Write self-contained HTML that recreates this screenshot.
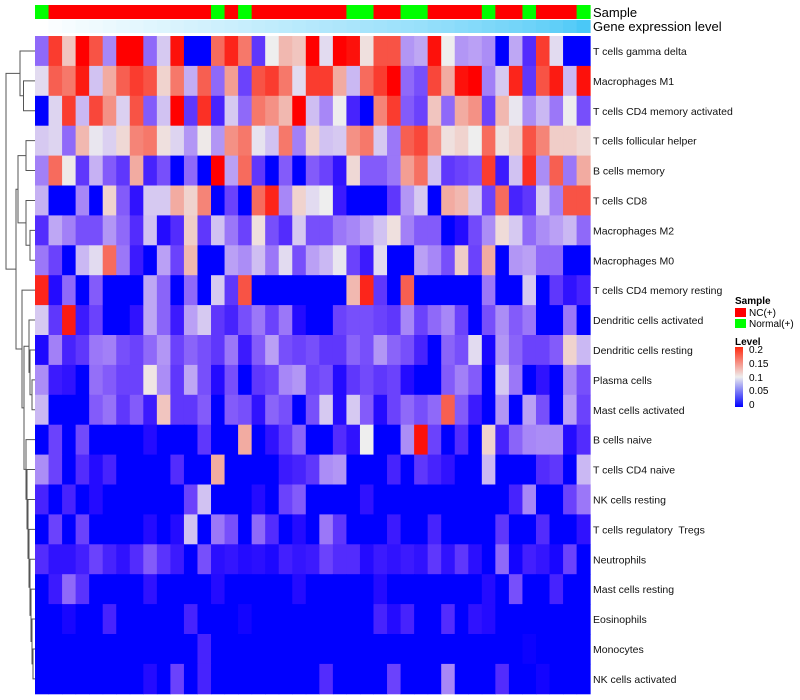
<!DOCTYPE html>
<html><head><meta charset="utf-8"><style>
body{margin:0;background:#fff;}
svg{display:block;font-family:"Liberation Sans",sans-serif;}
text{white-space:pre;}
</style></head><body>
<svg id="chart" width="800" height="700" xmlns="http://www.w3.org/2000/svg">
<defs><linearGradient id="lg" x1="0" y1="1" x2="0" y2="0"><stop offset="0" stop-color="#0000ff"/><stop offset="0.5" stop-color="#eeeeee"/><stop offset="1" stop-color="#ff2a10"/></linearGradient></defs>
<g id="cells"></g>
<g id="annot"></g>
<g id="dendro" stroke="#555" stroke-width="1" fill="none"></g>
<g id="rowlabels" font-size="10.5" fill="#111"></g>
<text x="593" y="17" font-size="13">Sample</text>
<text x="593" y="31" font-size="13">Gene expression level</text>
<g font-size="10">
<text x="735" y="304" font-weight="bold">Sample</text>
<rect x="735" y="308" width="11" height="9" fill="#ff0000"/>
<text x="749" y="316">NC(+)</text>
<rect x="735" y="319" width="11" height="9" fill="#00ff00"/>
<text x="749" y="327">Normal(+)</text>
<text x="735" y="345" font-weight="bold">Level</text>
<rect x="735" y="347" width="8" height="60" fill="url(#lg)"/>
<text x="749" y="353">0.2</text>
<text x="749" y="367">0.15</text>
<text x="749" y="381">0.1</text>
<text x="749" y="394">0.05</text>
<text x="749" y="408">0</text>
</g>
</svg>
<script>
const rowNames=["T cells gamma delta","Macrophages M1","T cells CD4 memory activated","T cells follicular helper","B cells memory","T cells CD8","Macrophages M2","Macrophages M0","T cells CD4 memory resting","Dendritic cells activated","Dendritic cells resting","Plasma cells","Mast cells activated","B cells naive","T cells CD4 naive","NK cells resting","T cells regulatory  Tregs","Neutrophils","Mast cells resting","Eosinophils","Monocytes","NK cells activated"];
const sampleGroup=["N","C","C","C","C","C","C","C","C","C","C","C","C","N","C","N","C","C","C","C","C","C","C","N","N","C","C","N","N","C","C","C","C","N","C","C","N","C","C","C","N"];
const geneLevel=[0,0.03,0.05,0.07,0.09,0.11,0.13,0.15,0.17,0.19,0.21,0.23,0.25,0.27,0.29,0.31,0.33,0.35,0.37,0.39,0.41,0.43,0.45,0.47,0.49,0.51,0.53,0.55,0.57,0.6,0.62,0.65,0.68,0.71,0.74,0.77,0.8,0.84,0.88,0.93,1];
const r0=[0.06,0.17,0.115,0.2,0.16,0.07,0.2,0.2,0.06,0.09,0.19,0,0,0.15,0.18,0.145,0.04,0.1,0.12,0.115,0.2,0.095,0.2,0.19,0.105,0.16,0.16,0.075,0.08,0.19,0.1,0.075,0.078,0.072,0,0.08,0.035,0.17,0.095,0,0];
const r1=[0.095,0.155,0.145,0.185,0.088,0.125,0.155,0.17,0.16,0.11,0.145,0.082,0.155,0.06,0.13,0.045,0.16,0.17,0.145,0.095,0.17,0.17,0.125,0.085,0.15,0.17,0.2,0.06,0.05,0.165,0.125,0.19,0.2,0.068,0.09,0.18,0.04,0.16,0.185,0.085,0.19];
const r2=[0,0.093,0.17,0.085,0.165,0.135,0.092,0.16,0.055,0.088,0.2,0.04,0.175,0.03,0.09,0.06,0.145,0.135,0.12,0.2,0.087,0.07,0.1,0.03,0,0.14,0.17,0.055,0.045,0.115,0.06,0.125,0.135,0.045,0.12,0.098,0.072,0.085,0.065,0.1,0.05];
const r3=[0.09,0.093,0.06,0.12,0.098,0.092,0.108,0.14,0.145,0.105,0.093,0.075,0.102,0.075,0.135,0.145,0.097,0.088,0.145,0.068,0.11,0.088,0.09,0.135,0.145,0.09,0.065,0.155,0.165,0.135,0.105,0.11,0.1,0.15,0.105,0.112,0.16,0.14,0.112,0.112,0.108];
const r4=[0.068,0.15,0.102,0.04,0.083,0.055,0.04,0.125,0.03,0.05,0,0.06,0,0.2,0.078,0.15,0.04,0,0.055,0,0.055,0.045,0.02,0.108,0.055,0.055,0.065,0.13,0.148,0.088,0.04,0.045,0.05,0.17,0.025,0.088,0.175,0.072,0.155,0.065,0.125];
const r5=[0.083,0,0,0.07,0,0.11,0.055,0.02,0.09,0.09,0.125,0.11,0.14,0,0.045,0,0.15,0.18,0.07,0.11,0.095,0.1,0.025,0,0,0,0.04,0.075,0.09,0,0.125,0.12,0.09,0.045,0.15,0.03,0.04,0.09,0.068,0.16,0.16];
const r6=[0.035,0.08,0.068,0.05,0.05,0.075,0.06,0.035,0.088,0.015,0.035,0.112,0.04,0.088,0.065,0.045,0.105,0.05,0.035,0.09,0.05,0.05,0.065,0.07,0.078,0.088,0.105,0.068,0.055,0.055,0,0.015,0.048,0.072,0.107,0.09,0.06,0.072,0.078,0.085,0.06];
const r7=[0.065,0.045,0,0.085,0.095,0.15,0.065,0.025,0,0.078,0.045,0.12,0,0,0.078,0.072,0.087,0.065,0.095,0.05,0.078,0.085,0.098,0.045,0.025,0.095,0,0,0.078,0.07,0.05,0.112,0.045,0.125,0,0.075,0.078,0.06,0.06,0,0];
const r8=[0.18,0.015,0.06,0,0.055,0,0,0,0.08,0.058,0,0.06,0,0.09,0.04,0.16,0,0,0,0,0,0,0,0.12,0.18,0.04,0,0.155,0,0,0,0,0,0.065,0,0,0.09,0,0.04,0.02,0.03];
const r9=[0.09,0.04,0.185,0.025,0.045,0,0,0.02,0.08,0.058,0.025,0.078,0.09,0.04,0.03,0.05,0.065,0.045,0.065,0.015,0,0,0.045,0.05,0.05,0.045,0.04,0.07,0.045,0.06,0.07,0.045,0,0.05,0.072,0.055,0.065,0,0,0.065,0];
const r10=[0.012,0.068,0.03,0.04,0.065,0.068,0.05,0.045,0.06,0.075,0.045,0.058,0.05,0.04,0.065,0.025,0.055,0.078,0.05,0.045,0.05,0.04,0.04,0.058,0.05,0.075,0.058,0.05,0.03,0,0.058,0.05,0.095,0.01,0.075,0.058,0.045,0.045,0.055,0.11,0.085];
const r11=[0.072,0.025,0.02,0,0.062,0.055,0.045,0.045,0.103,0.072,0.04,0.08,0.05,0.015,0.05,0,0.04,0.045,0.07,0.075,0.045,0.05,0.015,0.04,0.048,0.04,0.045,0.015,0,0,0.055,0.068,0.055,0,0.09,0.065,0,0.02,0,0.07,0.05];
const r12=[0.085,0,0,0,0.055,0.063,0.04,0.055,0.025,0.115,0.04,0.04,0.055,0,0.055,0.05,0.02,0.058,0.05,0,0.05,0.09,0.015,0.09,0.055,0.015,0.045,0.06,0.05,0.06,0.155,0.055,0.025,0,0.075,0,0.078,0.05,0,0.078,0.045];
const r13=[0,0.045,0,0.048,0,0,0,0,0.015,0,0,0,0.04,0,0,0.125,0,0.02,0.04,0.058,0,0,0.035,0.02,0.1,0,0,0.072,0.19,0.045,0,0.035,0,0.11,0.03,0.058,0.07,0.072,0.072,0.015,0.035];
const r14=[0.072,0.045,0,0.035,0.015,0.03,0,0,0,0,0.035,0,0,0.125,0,0,0,0,0.025,0.03,0.04,0.072,0.075,0,0,0,0.03,0,0.04,0.03,0.02,0,0,0.085,0,0,0,0.035,0.04,0,0.085];
const r15=[0.03,0,0.03,0,0.015,0,0,0,0,0,0,0.045,0.088,0,0,0,0.015,0,0.045,0.055,0,0,0,0,0.02,0,0,0,0,0,0,0,0,0,0,0.03,0.07,0,0,0.045,0.065];
const r16=[0,0.045,0,0.045,0,0,0,0,0.015,0,0.015,0.088,0,0.065,0.05,0,0.06,0.035,0,0.015,0,0.065,0.04,0,0,0,0.025,0,0,0.03,0,0,0,0,0.04,0,0,0.035,0,0,0.02];
const r17=[0.035,0.02,0.02,0.028,0.045,0.03,0.02,0.035,0.055,0.038,0.025,0,0.05,0.018,0.022,0.015,0.018,0.012,0.028,0.022,0.025,0.045,0.035,0.035,0.015,0.025,0.02,0.025,0.02,0.04,0.02,0.04,0.018,0,0.06,0.008,0.028,0.022,0.01,0.045,0];
const r18=[0,0.025,0.06,0.038,0,0,0,0,0.02,0,0,0,0,0.015,0,0,0,0,0,0.015,0,0,0,0,0,0.015,0,0,0,0,0,0,0,0.015,0,0.05,0,0,0.03,0,0];
const r19=[0,0,0.01,0,0,0.03,0,0,0,0,0,0.03,0,0,0,0.008,0,0,0,0,0,0,0,0,0,0.03,0.015,0.03,0,0,0.035,0,0.02,0.015,0,0,0,0,0,0,0];
const r20=[0,0,0,0,0,0,0,0,0,0,0,0,0.03,0,0,0,0,0,0,0,0,0,0,0,0,0,0,0,0,0,0,0,0,0,0,0,0.005,0,0,0,0];
const r21=[0,0,0,0,0,0,0,0,0.015,0,0.045,0,0.03,0,0,0,0,0,0,0,0,0.035,0,0,0,0,0.045,0,0,0,0.07,0,0,0,0.035,0,0,0.008,0,0,0];
const matrix=[r0,r1,r2,r3,r4,r5,r6,r7,r8,r9,r10,r11,r12,r13,r14,r15,r16,r17,r18,r19,r20,r21];

const NS="http://www.w3.org/2000/svg";
const X0=35,CW=13.54,Y0=36,RH=29.9;
function xPos(c){return X0+c*CW;}
function yPos(r){return Y0+r*RH;}
function colorOf(v){
  v=Math.max(0,Math.min(0.2,v));
  if(v<=0.1){const t=v/0.1;return `rgb(${Math.round(238*t)},${Math.round(238*Math.pow(t,1.6))},${Math.round(255-17*t*t)})`;}
  const s=(v-0.1)/0.1;
  return `rgb(${Math.round(238+17*s)},${Math.round(238*Math.pow(1-s,1.15))},${Math.round(238*Math.pow(1-s,1.35))})`;
}
function geneColor(t){return `rgb(${Math.round(255-181*t)},${Math.round(255-55*t)},${Math.round(255-8*t)})`;}
function mk(tag,attrs){const e=document.createElementNS(NS,tag);for(const k in attrs)e.setAttribute(k,attrs[k]);return e;}
const cells=document.getElementById('cells');
matrix.forEach((row,r)=>{row.forEach((v,c)=>{
  const e=mk('rect',{x:xPos(c),y:yPos(r),width:CW+0.5,height:RH+0.5,fill:colorOf(v)});
  
  
  cells.appendChild(e);
});});
const annot=document.getElementById('annot');
sampleGroup.forEach((g,c)=>{
  const e=mk('rect',{x:xPos(c),y:5,width:CW+0.5,height:14,fill:g==="C"?"#ff0000":"#00ff00"});
  
  
  annot.appendChild(e);
});
geneLevel.forEach((t,c)=>{
  const e=mk('rect',{x:xPos(c),y:20,width:CW+0.5,height:13,fill:geneColor(t)});
  
  
  annot.appendChild(e);
});
const rl=document.getElementById('rowlabels');
rowNames.forEach((n,r)=>{
  const e=mk('text',{x:593,y:yPos(r)+RH/2+4});
  e.textContent=n;
  
  
  rl.appendChild(e);
});
const merges=[[1,2,23.5],[0,'m0',20],[3,4,26],[6,7,30],[5,'m3',26],['m2','m4',18],[11,12,32],[10,'m6',30],[9,'m7',29],[20,21,33],[19,'m9',32],[18,'m10',31],[17,'m11',30],[16,'m12',29],[15,'m13',28],[14,'m14',27],[13,'m15',26],['m8','m16',24],[8,'m17',22],['m5','m18',16],['m1','m19',6]];
const dd=document.getElementById('dendro');
const nodes={};
function node(k){if(typeof k==='number')return{y:yPos(k)+RH/2,x:X0};return nodes[k];}
merges.forEach((m,i)=>{
  const a=node(m[0]),b=node(m[1]),h=m[2];
  const e=mk('path',{d:`M${a.x},${a.y}H${h}V${b.y}H${b.x}`});
  
  
  dd.appendChild(e);
  nodes['m'+i]={x:h,y:(a.y+b.y)/2};
});
</script>
</body></html>
